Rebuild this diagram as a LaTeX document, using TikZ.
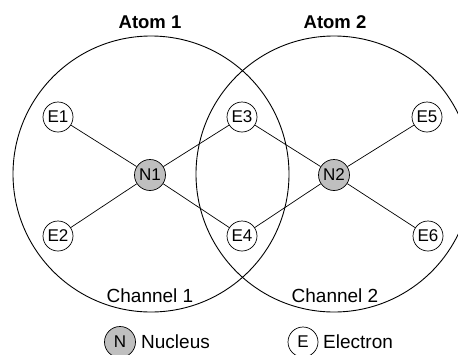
\documentclass[tikz,border=0pt]{standalone}
\usepackage{fontspec}
\setmainfont{Liberation Sans}
\begin{document}
\begin{tikzpicture}[x=1pt,y=-1pt,
  atom/.style={circle,draw,line width=0.9pt,minimum size=276pt,inner sep=0pt},
  nuc/.style={circle,draw,line width=0.7pt,fill=gray!50,minimum size=31pt,inner sep=0pt,font=\fontsize{17}{18}\selectfont},
  elec/.style={circle,draw,line width=0.7pt,fill=white,minimum size=30pt,inner sep=0pt,font=\fontsize{17}{18}\selectfont},
  link/.style={line width=0.7pt},
  lbl/.style={inner sep=0pt,font=\fontsize{19}{20}\selectfont},
  ttl/.style={inner sep=0pt,font=\fontsize{18.5}{19}\selectfont\bfseries}]
\useasboundingbox (0,0) rectangle (458,354);
\node[atom] (A1) at (151,174) {};
\node[atom] (A2) at (334,174) {};
\node[ttl] (T1) at (150,22) {Atom 1};
\node[ttl] (T2) at (335,22) {Atom 2};
\node[lbl] (C1) at (150,296) {Channel 1};
\node[lbl] (C2) at (335,296) {Channel 2};
\node[nuc] (N1) at (150,175) {N1};
\node[nuc] (N2) at (334,175) {N2};
\node[elec] (E1) at (58,117) {E1};
\node[elec] (E2) at (58,236) {E2};
\node[elec] (E3) at (242,117) {E3};
\node[elec] (E4) at (242,236) {E4};
\node[elec] (E5) at (427,117) {E5};
\node[elec] (E6) at (428,236) {E6};
\draw[link] (N1) -- (E1);
\draw[link] (N1) -- (E2);
\draw[link] (N1) -- (E3);
\draw[link] (N1) -- (E4);
\draw[link] (N2) -- (E3);
\draw[link] (N2) -- (E4);
\draw[link] (N2) -- (E5);
\draw[link] (N2) -- (E6);
\node[nuc] (LN) at (120,342) {N};
\node[lbl,anchor=west] (LNt) at (141,342) {Nucleus};
\node[elec] (LE) at (303,342) {E};
\node[lbl,anchor=west] (LEt) at (323,342) {Electron};
\end{tikzpicture}
\end{document}
